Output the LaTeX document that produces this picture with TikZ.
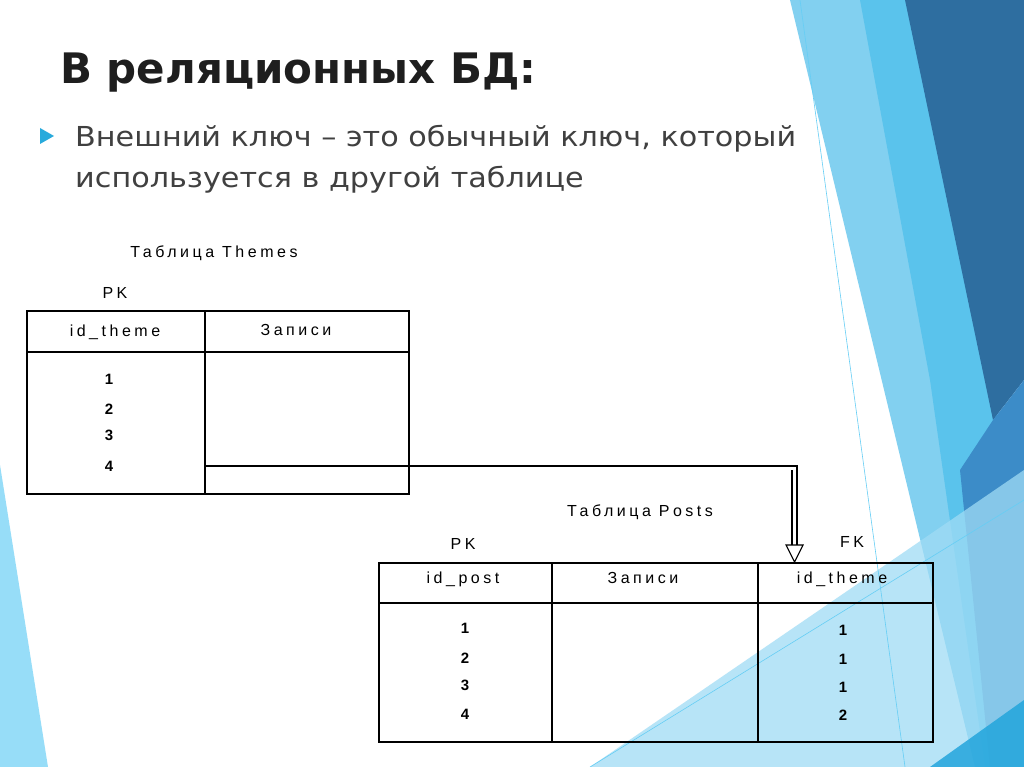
\documentclass[tikz,border=0pt]{standalone}
\usepackage{fontspec}
\setmainfont{DejaVu Sans}
\newfontfamily\bodyf[FakeStretch=1.1]{DejaVu Sans}
\newfontfamily\tbl[LetterSpace=22]{Liberation Sans}
\begin{document}
\begin{tikzpicture}[x=1pt,y=-1pt,
  cell/.style={font=\tbl\fontsize{16}{16}\selectfont,inner sep=0pt},
  num/.style={font=\tbl\bfseries\fontsize{15}{15}\selectfont,inner sep=0pt},
  tl/.style={line width=1.2pt},
  bodytext/.style={anchor=base west,inner sep=0pt,font=\bodyf\fontsize{27.5}{27.5}\selectfont,text={rgb,255:red,64;green,64;blue,64}}]
\useasboundingbox (0,0) rectangle (1024,767);
\fill[white] (0,0) rectangle (1024,767);
% background decoration
\fill[cyan!45!white,opacity=.9] (0,465) -- (48,767) -- (0,767) -- cycle;
\fill[fill={rgb,255:red,130;green,208;blue,240}] (790,0) -- (905,0) -- (1024,600) -- (1024,767) -- (975,767) -- cycle;
\fill[fill={rgb,255:red,90;green,195;blue,236}] (860,0) -- (920,0) -- (1024,560) -- (1024,767) -- (985,767) -- (930,380) -- cycle;
\fill[fill={rgb,255:red,46;green,110;blue,160}] (905,0) -- (1024,0) -- (1024,380) -- (993,420) -- cycle;
\fill[fill={rgb,255:red,60;green,140;blue,200}] (993,420) -- (1024,380) -- (1024,767) -- (990,767) -- (960,470) -- cycle;
\fill[fill={rgb,255:red,160;green,220;blue,245},opacity=.75] (590,767) -- (1024,470) -- (1024,767) -- cycle;
\fill[fill={rgb,255:red,35;green,165;blue,220},opacity=.85] (930,767) -- (1024,700) -- (1024,767) -- cycle;
\draw[cyan!60,line width=.6pt] (800,0) -- (905,767);
\draw[cyan!60,line width=.6pt] (590,767) -- (1024,500);
% title & bullet
\node[anchor=base west,inner sep=0pt,font=\bfseries\fontsize{42}{42}\selectfont,text={rgb,255:red,30;green,30;blue,30}] (title) at (60,84) {В реляционных БД:};
\fill[fill={rgb,255:red,40;green,170;blue,220}] (40,128) -- (54,136) -- (40,144) -- cycle;
\node[bodytext] (l1) at (75,147) {Внешний ключ – это обычный ключ, который};
\node[bodytext] (l2) at (75,188) {используется в другой таблице};
% Themes table
\node[cell] (tt) at (214,253) {Таблица Themes};
\node[cell] (pk1) at (115,293) {PK};
\draw[tl] (27,311) rectangle (409,494);
\draw[tl] (27,352) -- (409,352);
\draw[tl] (205,311) -- (205,494);
\node[cell] (h1) at (115,332) {id\_theme};
\node[cell] (h2) at (296,330) {Записи};
\foreach \v/\y in {1/379,2/409,3/435,4/466} \node[num] (t\v) at (109,\y) {\v};
% Posts table
\node[cell] (tp) at (640,512) {Таблица Posts};
\node[cell] (pk2) at (463,544) {PK};
\node[cell] (fk) at (852,542) {FK};
\draw[tl] (379,563) rectangle (933,742);
\draw[tl] (379,603) -- (933,603);
\draw[tl] (552,563) -- (552,742);
\draw[tl] (758,563) -- (758,742);
\node[cell] (g1) at (463,579) {id\_post};
\node[cell] (g2) at (643,578) {Записи};
\node[cell] (g3) at (842,579) {id\_theme};
\foreach \v/\y in {1/628,2/658,3/685,4/714} \node[num] (p\v) at (465,\y) {\v};
\foreach \v/\y [count=\i] in {1/630,1/659,1/687,2/715} \node[num] (f\i) at (843,\y) {\v};
% connector
\coordinate (a0) at (205,466);
\coordinate (a1) at (797,466);
\draw[tl] (a0) -- (a1) -- (797,545);
\draw[tl] (792,470) -- (792,545);
\draw[line width=1.1pt,fill=white] (786,545) -- (803,545) -- (794.5,562) -- cycle;
\end{tikzpicture}
\end{document}
